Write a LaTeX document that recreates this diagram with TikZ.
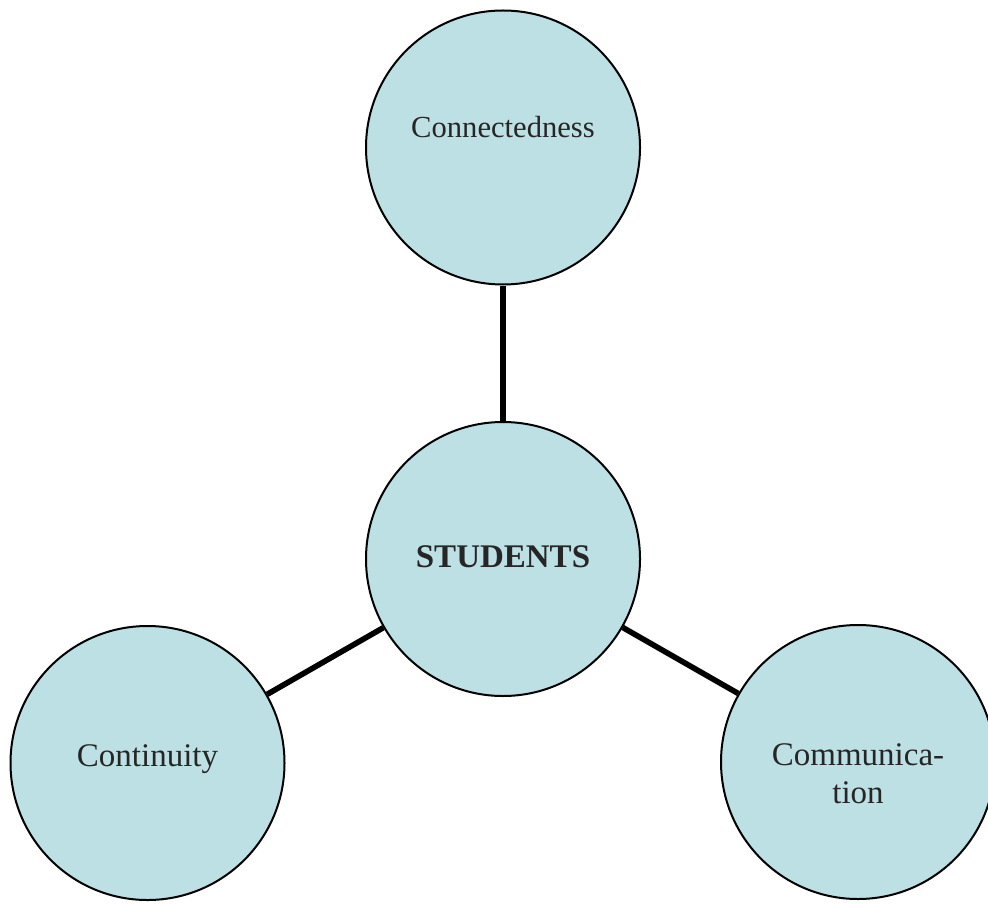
\documentclass[tikz,border=0pt]{standalone}
\usepackage{fontspec}
\setmainfont{Liberation Serif}
\definecolor{bubblefill}{RGB}{189,224,228}
\definecolor{inkgray}{RGB}{38,38,38}
\begin{document}
\begin{tikzpicture}[x=0.5pt,y=-0.5pt,
  bubble/.style={circle,draw=black,line width=1pt,fill=bubblefill,
    minimum size=274*0.5pt,inner sep=0pt},
  word/.style={anchor=base,text=inkgray,font=\fontsize{16.5pt}{19pt}\selectfont,
    inner sep=0pt,align=center},
  spoke/.style={line width=2.8pt,black}]
  \useasboundingbox (0,0) rectangle (988,903);
  % the four circles
  \node[bubble] (top)   at (503,147.5) {};
  \node[bubble] (mid)   at (503,559)   {};
  \node[bubble] (left)  at (147.5,763) {};
  \node[bubble] (right) at (858,762)   {};
  % spokes from the centre circle
  \draw[spoke] (mid) -- (top);
  \draw[spoke] (mid) -- (left);
  \draw[spoke] (mid) -- (right);
  % labels (base anchor of a two-line node sits on its last line)
  \node[word,font=\fontsize{15.3pt}{19pt}\selectfont] (ttop) at (503,138) {Connectedness};
  \node[word,font=\fontsize{16.5pt}{19pt}\selectfont\bfseries] (tmid) at (503,567) {STUDENTS};
  \node[word] (tleft) at (147.5,766) {Continuity};
  \node[word] (tright) at (858,803) {Communica-\\tion};
\end{tikzpicture}
\end{document}
